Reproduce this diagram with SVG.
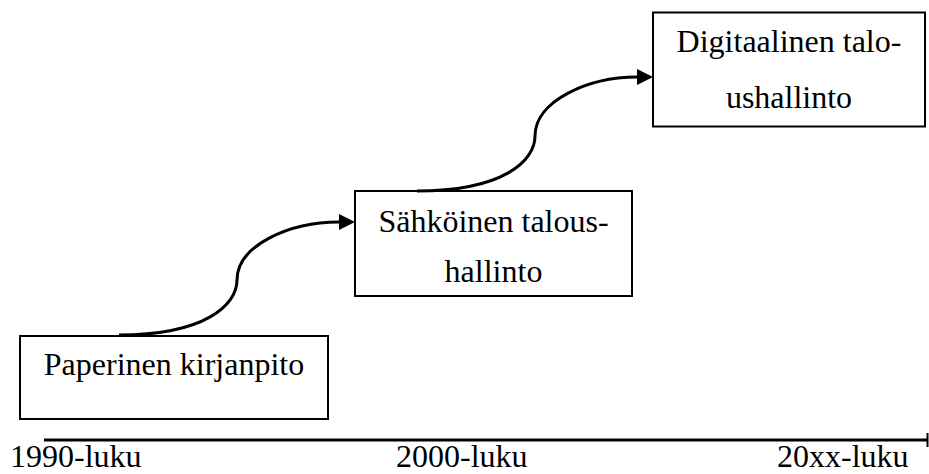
<svg xmlns="http://www.w3.org/2000/svg" width="929" height="474" viewBox="0 0 929 474">
<style>
.box{fill:#fff;stroke:#000;stroke-width:2}
.t{font-family:"Liberation Serif","Times New Roman",serif;font-size:32px;fill:#000}
.c{text-anchor:middle}
.conn{fill:none;stroke:#000;stroke-width:3}
</style>
<defs>
<marker id="ah" markerUnits="userSpaceOnUse" markerWidth="17" markerHeight="17" viewBox="0 -8.5 17 17" refX="0" refY="0" orient="auto">
<path d="M0,-8 L16,0 L0,8 z" fill="#000"/>
</marker>
</defs>
<g id="timeline">
<line x1="44" y1="440" x2="928" y2="440" stroke="#000" stroke-width="3"/>
<line x1="927.5" y1="433" x2="927.5" y2="447" stroke="#000" stroke-width="2"/>
<text class="t" x="10" y="467">1990-luku</text>
<text class="t" x="396" y="467">2000-luku</text>
<text class="t" x="777" y="467">20xx-luku</text>
</g>
<g id="node-paperinen">
<rect class="box" x="20" y="336" width="308" height="83"/>
<text class="t c" x="174" y="375">Paperinen kirjanpito</text>
</g>
<g id="node-sahkoinen">
<rect class="box" x="355" y="191" width="277" height="105"/>
<text class="t c" x="493.5" y="232">Sähköinen talous-</text>
<text class="t c" x="493.5" y="282">hallinto</text>
</g>
<g id="node-digitaalinen">
<rect class="box" x="653" y="12.5" width="272" height="114"/>
<text class="t c" x="789" y="52">Digitaalinen talo-</text>
<text class="t c" x="789" y="108">ushallinto</text>
</g>
<g id="connectors">
<path class="conn" d="M119,335 C205,335 237,305 237,280 C237,245 290,222 339,222" marker-end="url(#ah)"/>
<path class="conn" d="M417,191 C503,191 535,161 535,136 C535,101 588,77 637,77" marker-end="url(#ah)"/>
</g>
</svg>
